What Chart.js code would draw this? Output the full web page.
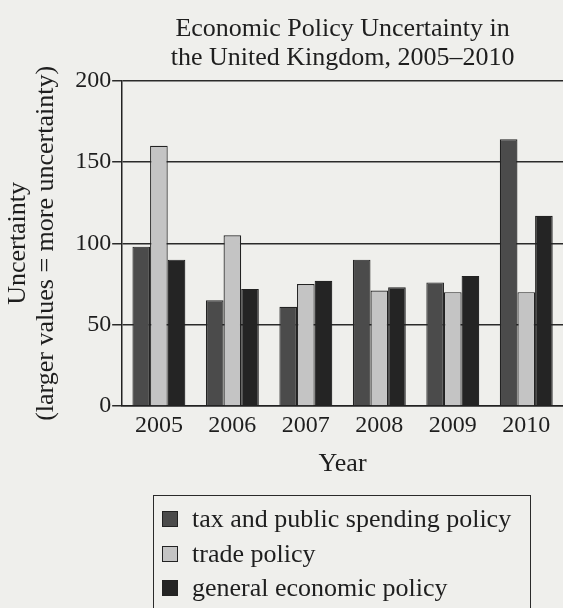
<!DOCTYPE html>
<html>
<head>
<meta charset="utf-8">
<script src="https://cdn.jsdelivr.net/npm/chart.js@4"></script>
<style>
  html, body { margin: 0; padding: 0; background: #efefec; overflow: hidden; }
  #wrap { position: relative; width: 563px; height: 608px; }
  #legend {
    position: absolute; left: 153px; top: 495px; width: 378px; height: 125px;
    border: 1.5px solid #2a2a2a; box-sizing: border-box;
    font-family: "Liberation Serif", "DejaVu Serif", serif; font-size: 26px; color: #1e1e1e;
    padding: 6px 0 0 8px;
  }
  .item { height: 34.5px; display: flex; align-items: center; }
  .sw { width: 16px; height: 16px; border: 1.5px solid #222; margin-right: 14px; box-sizing: border-box; flex: none; }
</style>
</head>
<body>
<div id="wrap">
  <canvas id="c" width="563" height="608"></canvas>
  <div id="legend"></div>
</div>
<script>
const years = ["2005", "2006", "2007", "2008", "2009", "2010"];
const taxSpending = [98, 65, 61, 90, 76, 164];
const tradePolicy = [160, 105, 75, 71, 70, 70];
const generalPolicy = [90, 72, 77, 73, 80, 117];
const seriesLabels = ["tax and public spending policy", "trade policy", "general economic policy"];
const seriesColors = ["#4b4b4b", "#c4c4c4", "#242424"];
const yTicks = [0, 50, 100, 150, 200];

const serif = "'Liberation Serif', 'DejaVu Serif', serif";
const ink = "#1e1e1e";

const datasets = [taxSpending, tradePolicy, generalPolicy].map((d, i) => ({
  label: seriesLabels[i],
  data: d,
  backgroundColor: seriesColors[i],
  borderColor: "#222",
  borderWidth: 1.2,
  categoryPercentage: 0.72,
  barPercentage: 1.0
}));

new Chart(document.getElementById("c"), {
  type: "bar",
  data: { labels: years, datasets },
  options: {
    responsive: false,
    animation: false,
    layout: { padding: { left: 4, right: 0, top: 14, bottom: 128 } },
    plugins: {
      legend: { display: false },
      tooltip: { enabled: false },
      title: {
        display: true,
        fullSize: false,
        text: ["Economic Policy Uncertainty in", "the United Kingdom, 2005\u20132010"],
        font: { family: serif, size: 26, weight: "normal", lineHeight: 1.13 },
        color: ink,
        padding: { top: 0, bottom: 8 }
      }
    },
    scales: {
      x: {
        grid: { display: false, drawTicks: false },
        border: { display: true, color: "#222", width: 1.5 },
        ticks: { font: { family: serif, size: 24 }, color: ink, padding: 5 },
        title: { display: true, text: "Year", font: { family: serif, size: 26 }, color: ink, padding: { top: 4, bottom: 0 } }
      },
      y: {
        min: 0, max: 200,
        afterBuildTicks: s => { s.ticks = yTicks.map(v => ({ value: v })); },
        grid: { color: "#2a2a2a", lineWidth: 1.5, drawTicks: true, tickLength: 10, z: -1 },
        border: { display: true, color: "#222", width: 1.5 },
        ticks: { font: { family: serif, size: 24 }, color: ink, padding: 1 },
        title: {
          display: true,
          text: ["Uncertainty", "(larger values = more uncertainty)"],
          font: { family: serif, size: 26, lineHeight: 1.08 },
          color: ink,
          padding: { top: 0, bottom: 14 }
        }
      }
    }
  }
});

const lg = document.getElementById("legend");
seriesLabels.forEach((t, i) => {
  const row = document.createElement("div");
  row.className = "item";
  const sw = document.createElement("span");
  sw.className = "sw";
  sw.style.background = seriesColors[i];
  const tx = document.createElement("span");
  tx.textContent = t;
  row.appendChild(sw); row.appendChild(tx);
  lg.appendChild(row);
});
</script>
</body>
</html>
